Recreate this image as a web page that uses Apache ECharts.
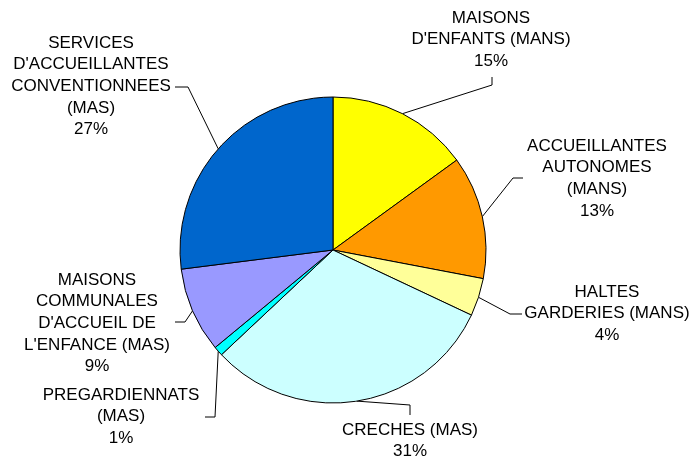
<!DOCTYPE html>
<html>
<head>
<meta charset="utf-8">
<script src="https://cdn.jsdelivr.net/npm/echarts@6/dist/echarts.min.js"></script>
<style>
  html, body { margin: 0; padding: 0; background: #fff; }
  #main { width: 694px; height: 463px; }
</style>
</head>
<body>
<div id="main"></div>
<script>
// categories and shares (%)
var categories = [
    "MAISONS\nD'ENFANTS (MANS)",
    "ACCUEILLANTES\nAUTONOMES\n(MANS)",
    "HALTES\nGARDERIES (MANS)",
    "CRECHES (MAS)",
    "PREGARDIENNATS\n(MAS)",
    "MAISONS\nCOMMUNALES\nD'ACCUEIL DE\nL'ENFANCE (MAS)",
    "SERVICES\nD'ACCUEILLANTES\nCONVENTIONNEES\n(MAS)"
];
var values = [15, 13, 4, 31, 1, 9, 27];
var colors = ['#FFFF00', '#FF9900', '#FFFF99', '#CCFFFF', '#00FFFF', '#9999FF', '#0066CC'];

// where each label block sits (centre x, top y) and the leader line elbows
var labelPos = [[491, 7], [597, 135], [607, 281], [410, 419], [121, 384], [97, 269], [91, 32]];
var elbows = [
    [[492, 85], [492, 77]],
    [[513, 178], [523, 178]],
    [[510, 314], [522, 314]],
    [[410, 405], [410, 415]],
    [[215, 417], [205, 417]],
    [[185, 322], [175, 322]],
    [[188, 87], [175, 87]]
];

var myChart = echarts.init(document.getElementById('main'));

var pieData = categories.map(function (c, i) {
    return { name: c, value: values[i], itemStyle: { color: colors[i] } };
});

option = {
    animation: false,
    series: [
        {
            type: 'pie',
            center: [333, 250],
            radius: 153,
            startAngle: 90,
            clockwise: true,
            avoidLabelOverlap: false,
            emphasis: { disabled: true },
            itemStyle: { borderColor: '#000', borderWidth: 1 },
            label: {
                show: true,
                position: 'outside',
                formatter: '{b}\n{d}%',
                color: '#000',
                fontFamily: 'Liberation Sans, Arial, sans-serif',
                fontSize: 17,
                lineHeight: 21.7,
                align: 'center'
            },
            labelLine: {
                show: true,
                lineStyle: { color: '#000', width: 1 }
            },
            labelLayout: function (params) {
                var i = params.dataIndex;
                var start = params.labelLinePoints ? params.labelLinePoints[0] : elbows[i][0];
                return {
                    x: labelPos[i][0],
                    y: labelPos[i][1],
                    align: 'center',
                    verticalAlign: 'top',
                    labelLinePoints: [start, elbows[i][0], elbows[i][1]]
                };
            },
            data: pieData
        }
    ]
};

myChart.setOption(option);
</script>
</body>
</html>
